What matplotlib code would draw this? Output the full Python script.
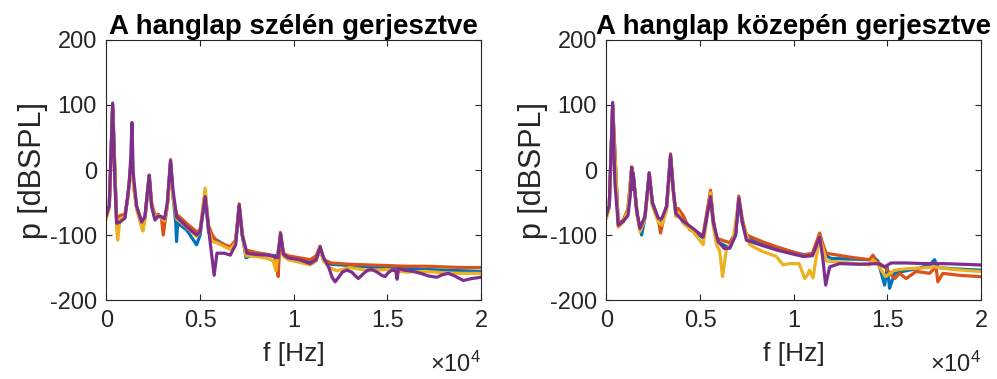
import matplotlib
matplotlib.use("Agg")
import matplotlib.pyplot as plt

plt.rcParams['font.family'] = ['Liberation Sans', 'DejaVu Sans']
plt.rcParams['mathtext.fontset'] = 'custom'
plt.rcParams['mathtext.rm'] = 'Liberation Sans'

# --- left panel: "A hanglap szélén gerjesztve" ---
left_f_blue = [0, 150, 330, 543, 720, 987, 1150, 1320, 1480, 1610, 1877, 2053, 2283, 2410, 2587, 2764, 2942,
               3100, 3250, 3422, 3550, 3700, 3742, 3800, 4277, 4810, 5000, 5270, 5450, 5650, 5900, 6300, 6610,
               6900, 7090, 7250, 7450, 8000, 8600, 9000, 9150, 9300, 9450, 9700, 10300, 10880, 11200, 11410,
               11600, 12000, 13000, 14000, 15000, 16000, 17000, 18000, 19000, 20000]
left_p_blue = [-70, -55, 100, -80, -72, -70, -40, 15, -30, -58, -84, -74, -9, -55, -73, -70, -72,
               -78, -55, 12, -40, -80, -110, -82, -92, -115, -100, -38, -95, -105, -108, -115, -120,
               -110, -55, -100, -135, -128, -130, -132, -130, -100, -130, -135, -138, -140, -138, -122,
               -140, -145, -147, -149, -150, -151, -153, -154, -155, -156]

left_f_orange = [0, 150, 330, 543, 720, 987, 1150, 1320, 1480, 1610, 1877, 2053, 2283, 2410, 2587, 2764, 2942,
                 3031, 3150, 3250, 3422, 3550, 3742, 4277, 4810, 5000, 5270, 5450, 5650, 5900, 6300, 6610,
                 6900, 7090, 7250, 7450, 8000, 8600, 8920, 9100, 9170, 9290, 9450, 9700, 10300, 10880, 11200,
                 11410, 11600, 12000, 13000, 14000, 15000, 16000, 17000, 18000, 19000, 20000]
left_p_orange = [-72, -55, 100, -78, -70, -68, -40, 16, -30, -55, -80, -72, -8, -50, -70, -68, -75,
                 -100, -75, -55, 16, -40, -68, -82, -95, -92, -33, -85, -100, -110, -115, -118,
                 -108, -52, -98, -123, -127, -130, -133, -140, -164, -96, -128, -132, -135, -138, -132,
                 -117, -138, -143, -145, -146, -147, -148, -148, -149, -150, -150]

left_f_yellow = [0, 150, 330, 543, 600, 720, 987, 1150, 1320, 1480, 1610, 1877, 1950, 2053, 2283, 2410, 2587,
                 2764, 2942, 3100, 3250, 3422, 3550, 3742, 4277, 4810, 5000, 5270, 5450, 5650, 5900, 6300,
                 6610, 6900, 7090, 7250, 7450, 8000, 8600, 8900, 9050, 9150, 9300, 9450, 9700, 10300, 10880,
                 11200, 11410, 11600, 11900, 12300, 13000, 14000, 15000, 16000, 17000, 18000, 19000, 20000]
left_p_yellow = [-75, -58, 98, -90, -108, -75, -72, -40, 13, -32, -60, -88, -94, -78, -10, -55, -72,
                 -70, -74, -78, -58, 10, -42, -75, -88, -102, -95, -28, -92, -110, -112, -118,
                 -122, -112, -55, -100, -132, -133, -136, -140, -155, -130, -100, -133, -138, -142, -146,
                 -140, -122, -140, -150, -155, -150, -155, -153, -157, -156, -158, -159, -159]

left_f_purple = [0, 150, 330, 450, 543, 720, 987, 1217, 1290, 1360, 1430, 1610, 1877, 2053, 2283, 2410, 2587,
                 2764, 2942, 3100, 3250, 3422, 3550, 3742, 4277, 4810, 5000, 5270, 5450, 5750, 5900, 6300,
                 6610, 6900, 7090, 7250, 7500, 8000, 8600, 8950, 9150, 9300, 9450, 9700, 10300, 10880, 11200,
                 11410, 11600, 11860, 12050, 12210, 12400, 12600, 12840, 13100, 13300, 13450, 13700, 13950,
                 14170, 14450, 14700, 14880, 15050, 15240, 15450, 15520, 15600, 15900, 16390, 16800, 17200,
                 17640, 17950, 18260, 18600, 19060, 19500, 20000]
left_p_purple = [-69, -55, 103, -20, -82, -80, -74, -20, 15, 73, -5, -56, -80, -72, -8, -56, -77,
                 -71, -72, -75, -50, 14, -30, -72, -87, -100, -95, -41, -90, -162, -128, -128,
                 -131, -115, -54, -100, -128, -130, -131, -133, -135, -98, -130, -135, -138, -144, -138,
                 -119, -135, -149, -165, -172, -165, -157, -154, -157, -163, -167, -160, -154,
                 -153, -157, -162, -164, -158, -154, -155, -168, -152, -154, -156, -159, -163,
                 -165, -161, -159, -163, -170, -167, -165]

# --- right panel: "A hanglap közepén gerjesztve" ---
right_f_blue = [0, 150, 330, 630, 897, 1150, 1343, 1430, 1650, 1877, 2053, 2283, 2450, 2763, 2950, 3209, 3423,
                3600, 3707, 3830, 4097, 4630, 5163, 5557, 5700, 5877, 6587, 6900, 7067, 7250, 7477, 8300, 9077,
                10497, 11000, 11387, 11600, 12000, 13000, 14053, 14230, 14500, 14853, 15000, 15120, 15387,
                16000, 16720, 17300, 17520, 17700, 18500, 19920, 20000]
right_p_blue = [-70, -55, 101, -84, -79, -60, 2, -8, -70, -100, -74, -6, -50, -75, -80, -58, 20,
                -40, -70, -62, -80, -92, -105, -35, -80, -110, -120, -100, -45, -80, -103, -112, -120,
                -130, -130, -102, -130, -136, -137, -138, -133, -140, -177, -150, -182, -159,
                -155, -151, -145, -138, -150, -152, -154, -154]

right_f_orange = [0, 150, 330, 630, 897, 1150, 1350, 1430, 1650, 1787, 2053, 2283, 2450, 2763, 2890, 3050, 3209,
                  3423, 3600, 3707, 3830, 4100, 4453, 5163, 5557, 5700, 5877, 6587, 6900, 7067, 7250, 7477,
                  8300, 9077, 10497, 11000, 11387, 11600, 11743, 13000, 14053, 14230, 14400, 14853, 15387,
                  15653, 16010, 16543, 17253, 17600, 17697, 17963, 18853, 19920, 20000]
right_p_orange = [-72, -55, 100, -82, -77, -60, 5, -8, -70, -90, -72, -4, -52, -75, -97, -75, -55,
                  25, -40, -62, -59, -70, -92, -100, -31, -75, -105, -112, -95, -40, -75, -100,
                  -110, -118, -131, -128, -97, -118, -128, -134, -138, -131, -140, -149, -167,
                  -159, -167, -156, -159, -149, -172, -159, -162, -164, -164]

right_f_yellow = [0, 150, 330, 630, 897, 1150, 1343, 1430, 1650, 1787, 2053, 2283, 2450, 2763, 2950, 3209,
                  3423, 3600, 3707, 3830, 4097, 4630, 5163, 5557, 5700, 5877, 6050, 6197, 6400, 6750, 7067,
                  7250, 7650, 8300, 9077, 9430, 9790, 10290, 10590, 10763, 10850, 11030, 11387, 11600, 11743,
                  13000, 14053, 14230, 14500, 14900, 15387, 16000, 16720, 17520, 18500, 19920, 20000]
right_p_yellow = [-74, -58, 98, -88, -80, -62, 0, -10, -72, -95, -76, -10, -55, -80, -85, -62,
                  15, -45, -72, -65, -82, -95, -115, -35, -85, -115, -125, -164, -123, -110, -46,
                  -80, -115, -125, -133, -146, -144, -144, -167, -160, -154, -166, -102, -125, -140,
                  -143, -146, -138, -146, -164, -154, -152, -151, -149, -153, -156, -156]

right_f_purple = [0, 150, 330, 450, 630, 897, 1150, 1270, 1343, 1390, 1430, 1600, 1787, 2053, 2283, 2450, 2763,
                  2950, 3209, 3423, 3560, 3707, 4097, 4630, 5163, 5557, 5700, 5963, 6300, 6587, 6900, 7067,
                  7250, 7477, 8300, 9077, 10497, 11000, 11387, 11550, 11707, 11920, 12453, 13500, 14500,
                  14853, 15200, 16000, 17000, 18000, 19000, 19920, 20000]
right_p_purple = [-69, -55, 104, -20, -85, -79, -70, -40, 4, -30, -5, -60, -90, -72, -5, -50, -74,
                  -75, -56, 23, -30, -67, -79, -90, -103, -41, -80, -110, -121, -120, -100, -44,
                  -80, -108, -116, -123, -133, -132, -103, -135, -177, -149, -144, -145, -144,
                  -149, -143, -143, -144, -144, -145, -146, -146]

titles = ['A hanglap szélén gerjesztve', 'A hanglap közepén gerjesztve']
panels = [
    [(left_f_blue, left_p_blue), (left_f_orange, left_p_orange),
     (left_f_yellow, left_p_yellow), (left_f_purple, left_p_purple)],
    [(right_f_blue, right_p_blue), (right_f_orange, right_p_orange),
     (right_f_yellow, right_p_yellow), (right_f_purple, right_p_purple)],
]
colors = ['#0072BD', '#D95319', '#EDB120', '#7E2F8E']
xtick_vals = [0, 5000, 10000, 15000, 20000]
xtick_labels = ['0', '0.5', '1', '1.5', '2']
ytick_vals = [-200, -100, 0, 100, 200]
ytick_labels = ['-200', '-100', '0', '100', '200']

txt = '#262626'
fig = plt.figure(figsize=(9.97, 3.79), dpi=100)
lefts = [0.1068, 0.6083]
for i in range(2):
    ax = fig.add_axes([lefts[i], 0.2084, 0.3756, 0.6861])
    for (f, p), c in zip(panels[i], colors):
        ax.plot(f, p, color=c, lw=2.3, solid_joinstyle='round')
    ax.set_xlim(0, 20000)
    ax.set_ylim(-200, 200)
    ax.set_xticks(xtick_vals)
    ax.set_xticklabels(xtick_labels)
    ax.set_yticks(ytick_vals)
    ax.set_yticklabels(ytick_labels)
    ax.tick_params(direction='in', length=4, width=0.8, colors=txt, labelsize=17,
                   top=True, right=True, pad=7)
    for s in ax.spines.values():
        s.set_color(txt)
        s.set_linewidth(0.8)
    ax.set_title(titles[i], fontsize=20, fontweight='bold', color='black', pad=4)
    ax.set_xlabel('f [Hz]', fontsize=19, color=txt)
    ax.set_ylabel('p [dBSPL]', fontsize=22, color=txt)
    ax.xaxis.set_label_coords(0.5, -0.16)
    ax.yaxis.set_label_coords(-0.155, 0.5)
    ax.text(1.0, -0.277, r'$\times\mathregular{10^4}$', transform=ax.transAxes,
            ha='right', va='baseline', fontsize=17, color=txt)

fig.savefig('out.png', dpi=100)
